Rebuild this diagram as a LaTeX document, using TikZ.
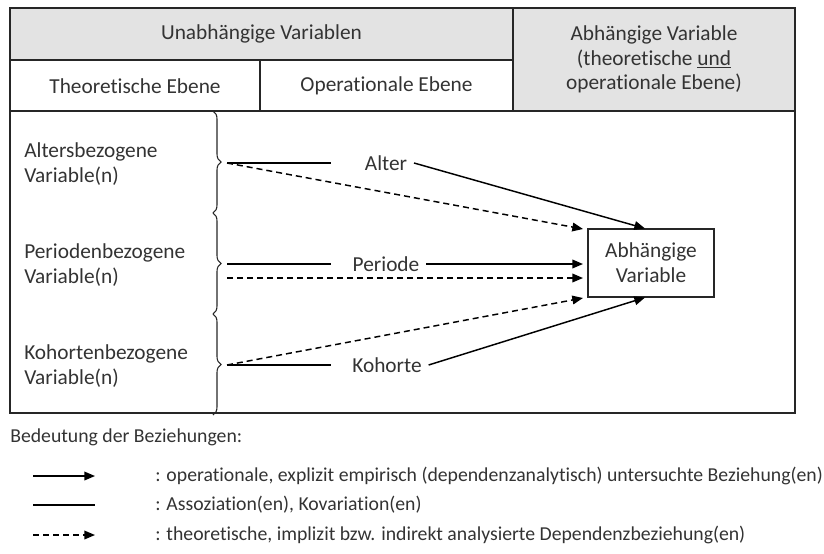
\documentclass[tikz,border=0pt]{standalone}
\usepackage{fontspec}
\setmainfont{Carlito}[Ligatures=NoCommon]
\usetikzlibrary{arrows.meta,decorations.pathreplacing}
\definecolor{headgray}{HTML}{E3E3E3}
\definecolor{txtgray}{HTML}{333333}
\tikzset{
  grid line/.style={draw=black!85, line width=0.8pt},
  lbl/.style={font=\fontsize{16}{18.5}\selectfont, text=txtgray, inner sep=0pt, align=left},
  leglbl/.style={font=\fontsize{14.8}{18}\selectfont, text=txtgray, inner sep=0pt},
  word/.style={font=\fontsize{16}{18.5}\selectfont, text=txtgray, inner xsep=5pt, inner ysep=2pt},
  oparrow/.style={line width=1.1pt, -{Triangle[length=8pt,width=6.5pt]}},
  theoarrow/.style={line width=1.1pt, dash pattern=on 4.5pt off 3pt, -{Triangle[length=8pt,width=6.5pt]}},
  assoc/.style={line width=0.9pt},
  bracket/.style={draw=black!85, line width=0.8pt, decorate, decoration={brace, amplitude=6pt}},
}
\begin{document}
\begin{tikzpicture}[x=0.75pt, y=-0.75pt]
  \useasboundingbox (0,0) rectangle (824,553);

  % Header of the table
  \fill[headgray] (10,8) rectangle (513,60);
  \fill[headgray] (513,8) rectangle (795,111);
  \draw[grid line] (10,8) rectangle (795,413);
  \draw[grid line] (10,60) -- (513,60);
  \draw[grid line] (10,111) -- (795,111);
  \draw[grid line] (513,8) -- (513,111);
  \draw[grid line] (260,60) -- (260,111);

  \node[lbl] (uv) at (261.5,34) {Unabhängige Variablen};
  \node[lbl] (te) at (135,86) {Theoretische Ebene};
  \node[lbl] (oe) at (386.5,86) {Operationale Ebene};
  \node[lbl, align=center] (av) at (654,59.5) {Abhängige Variable\\(theoretische \underline{und}\\operationale Ebene)};

  % Left labels
  \node[lbl, anchor=west] (alt) at (24,164) {Altersbezogene\\Variable(n)};
  \node[lbl, anchor=west] (per) at (24,265) {Periodenbezogene\\Variable(n)};
  \node[lbl, anchor=west] (koh) at (24,366) {Kohortenbezogene\\Variable(n)};

  % Braces
  \draw[bracket] (213,111) -- (213,213);
  \draw[bracket] (213,213) -- (213,314);
  \draw[bracket] (213,314) -- (213,415);

  \coordinate (altS) at (227,163);
  \coordinate (perS) at (227,264);
  \coordinate (perD) at (227,278);
  \coordinate (kohS) at (227,365);
  \coordinate (altE) at (331,163);
  \coordinate (perE) at (331,264);
  \coordinate (kohE) at (331,365);

  % Operational variables and dependent variable
  \node[word] (alter) at (386,163) {Alter};
  \node[word] (periode) at (386,264) {Periode};
  \node[word] (kohorte) at (387,365) {Kohorte};
  \node[draw=black!85, line width=0.8pt, minimum width=126*0.75pt, minimum height=68*0.75pt,
        lbl, align=center] (dv) at (651,263) {Abhängige\\Variable};

  \coordinate (dvA) at (583,229);
  \coordinate (dvP) at (583,264);
  \coordinate (dvQ) at (583,278);
  \coordinate (dvK) at (583,298);

  % Associations
  \draw[assoc] (altS) -- (altE);
  \draw[assoc] (perS) -- (perE);
  \draw[assoc] (kohS) -- (kohE);

  % Operational relations
  \draw[oparrow] (alter.east) -- (dv.north west -| 645,0);
  \draw[oparrow] (periode.east) -- (dvP);
  \draw[oparrow] (kohorte.east) -- (dv.south west -| 645,0);

  % Theoretical relations
  \draw[theoarrow] (altS) -- (dvA);
  \draw[theoarrow] (perD) -- (dvQ);
  \draw[theoarrow] (kohS) -- (dvK);

  % Legend
  \node[leglbl, anchor=west] (leg) at (10,437) {Bedeutung der Beziehungen:};
  \coordinate (l1a) at (33,476);
  \coordinate (l1b) at (95,476);
  \coordinate (l2a) at (33,505);
  \coordinate (l2b) at (95,505);
  \coordinate (l3a) at (33,535);
  \coordinate (l3b) at (95,535);
  \draw[oparrow] (l1a) -- (l1b);
  \draw[assoc] (l2a) -- (l2b);
  \draw[theoarrow] (l3a) -- (l3b);
  \node[leglbl, anchor=west] (t1) at (155,476) {: operationale, explizit empirisch (dependenzanalytisch) untersuchte Beziehung(en)};
  \node[leglbl, anchor=west] (t2) at (155,505) {: Assoziation(en), Kovariation(en)};
  \node[leglbl, anchor=west] (t3) at (155,535) {: theoretische, implizit bzw. indirekt analysierte Dependenzbeziehung(en)};
\end{tikzpicture}
\end{document}
